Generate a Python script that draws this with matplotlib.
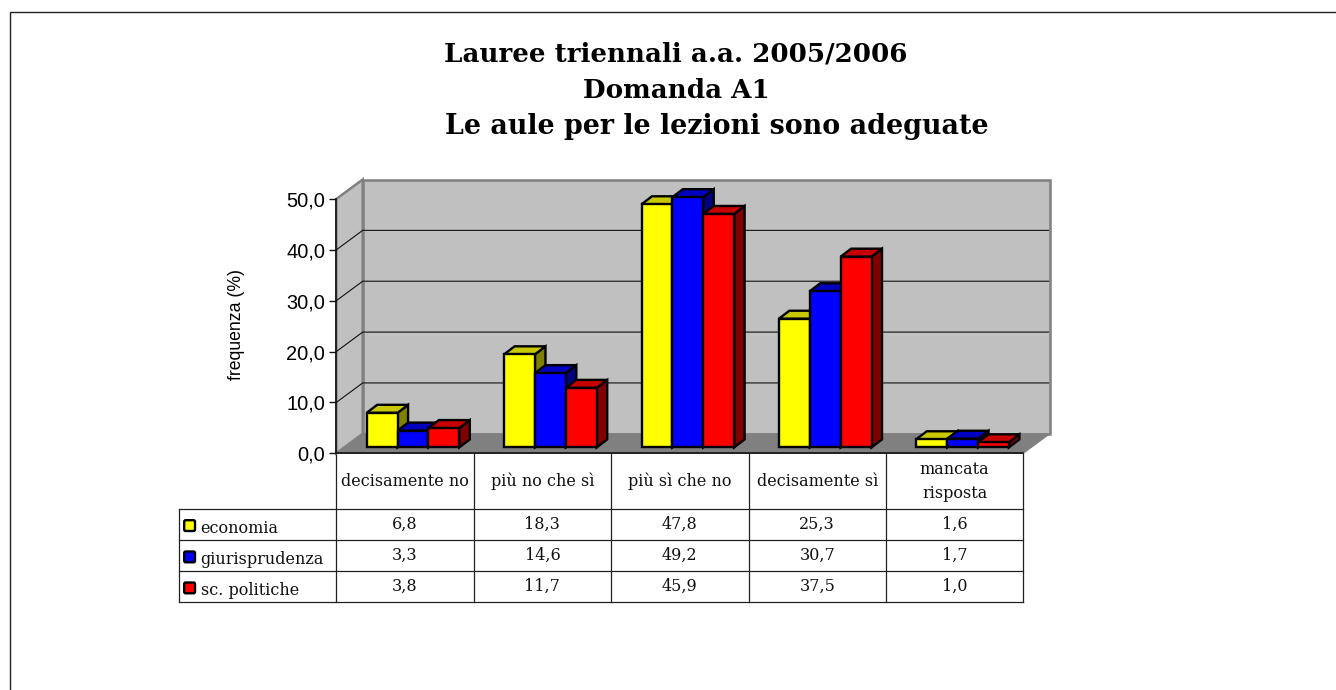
import matplotlib
matplotlib.use("Agg")
import matplotlib.pyplot as plt
from matplotlib.patches import Polygon, FancyBboxPatch

categories = ["decisamente no", "più no che sì", "più sì che no", "decisamente sì", "mancata\nrisposta"]
series_names = ["economia", "giurisprudenza", "sc. politiche"]
economia = [6.8, 18.3, 47.8, 25.3, 1.6]
giurisprudenza = [3.3, 14.6, 49.2, 30.7, 1.7]
politiche = [3.8, 11.7, 45.9, 37.5, 1.0]
series_values = [economia, giurisprudenza, politiche]
y_ticks = [0, 10, 20, 30, 40, 50]
title_lines = ["Lauree triennali a.a. 2005/2006", "Domanda A1", "Le aule per le lezioni sono adeguate"]
ylabel = "frequenza (%)"

front = ["#ffff00", "#0000ff", "#ff0000"]
top = ["#c8c800", "#0000c0", "#c80000"]
side = ["#808000", "#000080", "#800000"]
SERIF = "DejaVu Serif"
SANS = "Liberation Sans"

W, H = 1336, 690
fig = plt.figure(figsize=(W / 100, H / 100), dpi=100, facecolor="white")

# page overlay in pixel coordinates
pg = fig.add_axes([0, 0, 1, 1])
pg.set_xlim(0, W); pg.set_ylim(H, 0); pg.axis("off")
pg.plot([9.5, 9.5, W], [H, 12, 12], color="#222222", lw=1.0, solid_joinstyle="miter")

title_x = [676, 676, 717]
title_y = [54, 90, 127]
title_fs = [18.8, 18.8, 19.4]
for s, x, y, fs in zip(title_lines, title_x, title_y, title_fs):
    pg.text(x, y, s, family=SERIF, weight="bold", fontsize=fs, ha="center", va="center", color="black")

# chart axes: front plane of the 3D box
X0, X1, Y0, Y1 = 336.3, 1023.3, 453.3, 199.0
ax = fig.add_axes([X0 / W, 1 - Y0 / H, (X1 - X0) / W, (Y0 - Y1) / H])
ax.set_xlim(0, len(categories)); ax.set_ylim(0, 50)
ax.patch.set_alpha(0)
px = len(categories) / (X1 - X0)      # data units per pixel in x
py = 50 / (Y0 - Y1)                   # data units per pixel in y
dx, dy = 26.4 * px, 19.5 * py         # depth of the box

nc = len(categories)
ax.add_patch(Polygon([(0, 0), (dx, dy), (dx, 50 + dy), (0, 50)], fc="#c0c0c0", ec="#808080", lw=1.8, clip_on=False, zorder=1))
ax.add_patch(Polygon([(dx, dy), (nc + dx, dy), (nc + dx, 50 + dy), (dx, 50 + dy)], fc="#c0c0c0", ec="#808080", lw=1.8, clip_on=False, zorder=1))
ax.add_patch(Polygon([(0, 0), (dx, dy), (nc + dx, dy), (nc, 0)], fc="#808080", ec="#808080", lw=0.8, clip_on=False, zorder=2))
for v in y_ticks[1:-1]:
    ax.plot([0, dx, nc + dx - 0.008], [v, v + dy, v + dy], color="#111111", lw=0.8, clip_on=False, zorder=2)

# bars
bw = 30.87 * px
gap = 30.4 * px
bdx, bdy = 10.5 * px, 8 * py
by = 5.9 * py
for k in range(nc):
    for j, vals in enumerate(series_values):
        v = vals[k]
        x = k + gap + j * bw
        kw = dict(ec="black", lw=1.7, joinstyle="miter", clip_on=False, zorder=3 + k + j * 0.1)
        ax.add_patch(Polygon([(x + bw, by), (x + bw + bdx, by + bdy), (x + bw + bdx, by + v + bdy), (x + bw, by + v)], fc=side[j], **kw))
        ax.add_patch(Polygon([(x, by + v), (x + bdx, by + v + bdy), (x + bw + bdx, by + v + bdy), (x + bw, by + v)], fc=top[j], **kw))
        ax.add_patch(Polygon([(x, by), (x + bw, by), (x + bw, by + v), (x, by + v)], fc=front[j], **kw))

ax.set_xticks([])
ax.set_yticks(y_ticks)
ax.set_yticklabels([f"{t:.1f}".replace(".", ",") for t in y_ticks], family=SANS, fontsize=14.4)
ax.tick_params(axis="y", length=5, width=1.0, pad=3, color="#111111")
for s in ["top", "right"]:
    ax.spines[s].set_visible(False)
for s in ["left", "bottom"]:
    ax.spines[s].set_color("#111111"); ax.spines[s].set_linewidth(1.2); ax.spines[s].set_zorder(20)
pg.text(236.7, 325, ylabel, rotation=90, family=SANS, fontsize=12.7, ha="center", va="center")

# data table
colw = (X1 - X0) / nc
rows = [453.3, 508.7, 540.3, 571.3, 602.3]
xl = 179.3
lc = "#222222"
TFS = 11.5
for y in rows[1:]:
    pg.plot([xl, X1], [y, y], color=lc, lw=0.9)
pg.plot([xl, xl], [rows[1], rows[-1]], color=lc, lw=0.9)
for i in range(nc + 1):
    pg.plot([X0 + i * colw] * 2, [rows[0], rows[-1]], color=lc, lw=0.9)
for i, c in enumerate(categories):
    pg.text(X0 + (i + .5) * colw, (rows[0] + rows[1]) / 2 + 0.5, c, family=SERIF, fontsize=TFS, ha="center", va="center", linespacing=1.55, color="#111111")
for r, (name, vals) in enumerate(zip(series_names, series_values)):
    yc = (rows[r + 1] + rows[r + 2]) / 2
    pg.add_patch(FancyBboxPatch((184.2, yc - 4.3), 10.8, 10.8, boxstyle="round,pad=0,rounding_size=1.5", fc=front[r], ec="black", lw=1.7))
    pg.text(200.7, yc + 8.3, name, family=SERIF, fontsize=TFS, ha="left", va="baseline", color="#111111")
    for i, v in enumerate(vals):
        pg.text(X0 + (i + .5) * colw, yc, f"{v:.1f}".replace(".", ","), family=SERIF, fontsize=TFS, ha="center", va="center", color="#111111")

fig.savefig("out.png", dpi=100, facecolor="white")
